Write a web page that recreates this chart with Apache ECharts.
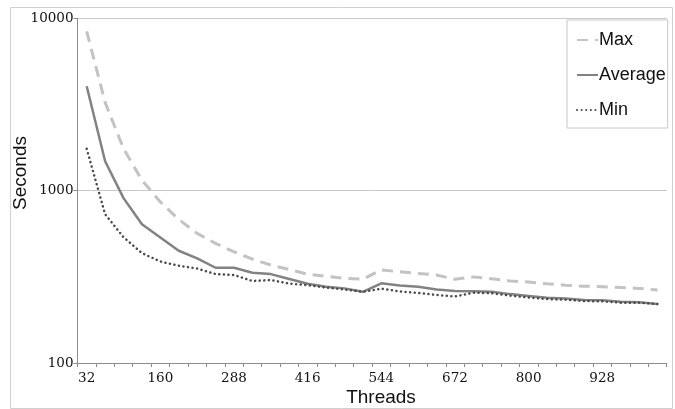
<!DOCTYPE html>
<html>
<head>
<meta charset="utf-8">
<script src="https://cdn.jsdelivr.net/npm/echarts@6/dist/echarts.min.js"></script>
<style>
html,body{margin:0;padding:0;background:#fff;}
#chart{width:675px;height:409px;}
</style>
</head>
<body>
<div id="chart"></div>
<script>
// Threads: 32 .. 1024 step 32
var threads = [32,64,96,128,160,192,224,256,288,320,352,384,416,448,480,512,
               544,576,608,640,672,704,736,768,800,832,864,896,928,960,992,1024];
var maxValues = [8400,3250,1750,1150,860,680,565,494,442,401,370,349,327,319,310,306,
                 347,338,331,324,306,316,308,299,295,288,283,279,277,274,271,265];
var avgValues = [4030,1480,905,639,535,448,405,357,357,334,328,307,288,277,271,259,
                 290,282,277,267,262,261,259,251,245,239,237,232,231,227,225,220];
var minValues = [1750,730,537,434,388,367,353,328,324,299,303,289,283,274,267,259,
                 270,260,255,248,243,256,254,246,240,235,233,229,228,224,224,220];
var seriesNames = ['Max','Average','Min'];
var xTitle = 'Threads';
var yTitle = 'Seconds';

var chart = echarts.init(document.getElementById('chart'), null, {renderer:'canvas'});
var serifFont = 'DejaVu Serif';
var sansFont = 'Liberation Sans';

chart.setOption({
  animation: false,
  backgroundColor: '#fff',
  grid: {left: 77.5, right: 8.3, top: 18.3, bottom: 46, containLabel: false},
  legend: {
    orient: 'vertical',
    left: 567, top: 20,
    data: seriesNames,
    itemWidth: 21, itemHeight: 14, itemGap: 17,
    padding: [11, 2, 9, 9],
    borderColor: '#c8c8c8', borderWidth: 1,
    backgroundColor: '#fff',
    itemStyle: {opacity: 0},
    textStyle: {fontFamily: sansFont, fontSize: 18, color: '#111', padding: [0,0,0,-4]}
  },
  xAxis: {
    type: 'category',
    data: threads,
    boundaryGap: true,
    axisLine: {lineStyle: {color: '#8c8c8c', width: 1}},
    axisTick: {show: true, interval: 0, length: 4, lineStyle: {color: '#8c8c8c'}},
    axisLabel: {interval: 3, fontFamily: serifFont, fontSize: 13.5, color: '#111', margin: 8},
    splitLine: {show: false}
  },
  yAxis: {
    type: 'log',
    logBase: 10,
    min: 100, max: 10000,
    axisLine: {show: true, lineStyle: {color: '#8c8c8c', width: 1}},
    axisTick: {show: true, length: 4, lineStyle: {color: '#8c8c8c'}},
    axisLabel: {fontFamily: serifFont, fontSize: 13.5, color: '#111', margin: 4,
                formatter: function (v) { return String(Math.round(v)); }},
    splitLine: {show: true, lineStyle: {color: '#c8c8c8', width: 1}},
    minorTick: {show: false}
  },
  graphic: [
    {type: 'rect', shape: {x: 10.5, y: 7.5, width: 662, height: 401}, silent: true, z: -10,
     style: {fill: 'none', stroke: '#d0d0d0', lineWidth: 1}},
    {type: 'text', x: 381, y: 398, silent: true,
     style: {text: xTitle, fontFamily: sansFont, fontSize: 19, fill: '#111', align: 'center', verticalAlign: 'middle'}},
    {type: 'text', x: 21, y: 173, rotation: Math.PI / 2, silent: true,
     style: {text: yTitle, fontFamily: sansFont, fontSize: 19, fill: '#111', align: 'center', verticalAlign: 'middle'}}
  ],
  series: [
    {name: seriesNames[0], type: 'line', data: maxValues, showSymbol: false, symbol: 'none',
     lineStyle: {color: '#c3c3c3', width: 3, type: [11, 7]}, itemStyle: {color: '#c3c3c3'}, z: 1},
    {name: seriesNames[1], type: 'line', data: avgValues, showSymbol: false, symbol: 'none',
     lineStyle: {color: '#828282', width: 2.5}, itemStyle: {color: '#828282'}, z: 2},
    {name: seriesNames[2], type: 'line', data: minValues, showSymbol: false, symbol: 'none',
     lineStyle: {color: '#4a4a4a', width: 2.5, type: [0.1, 4.5], cap: 'round'}, itemStyle: {color: '#4a4a4a'}, z: 3}
  ]
});
</script>
</body>
</html>
